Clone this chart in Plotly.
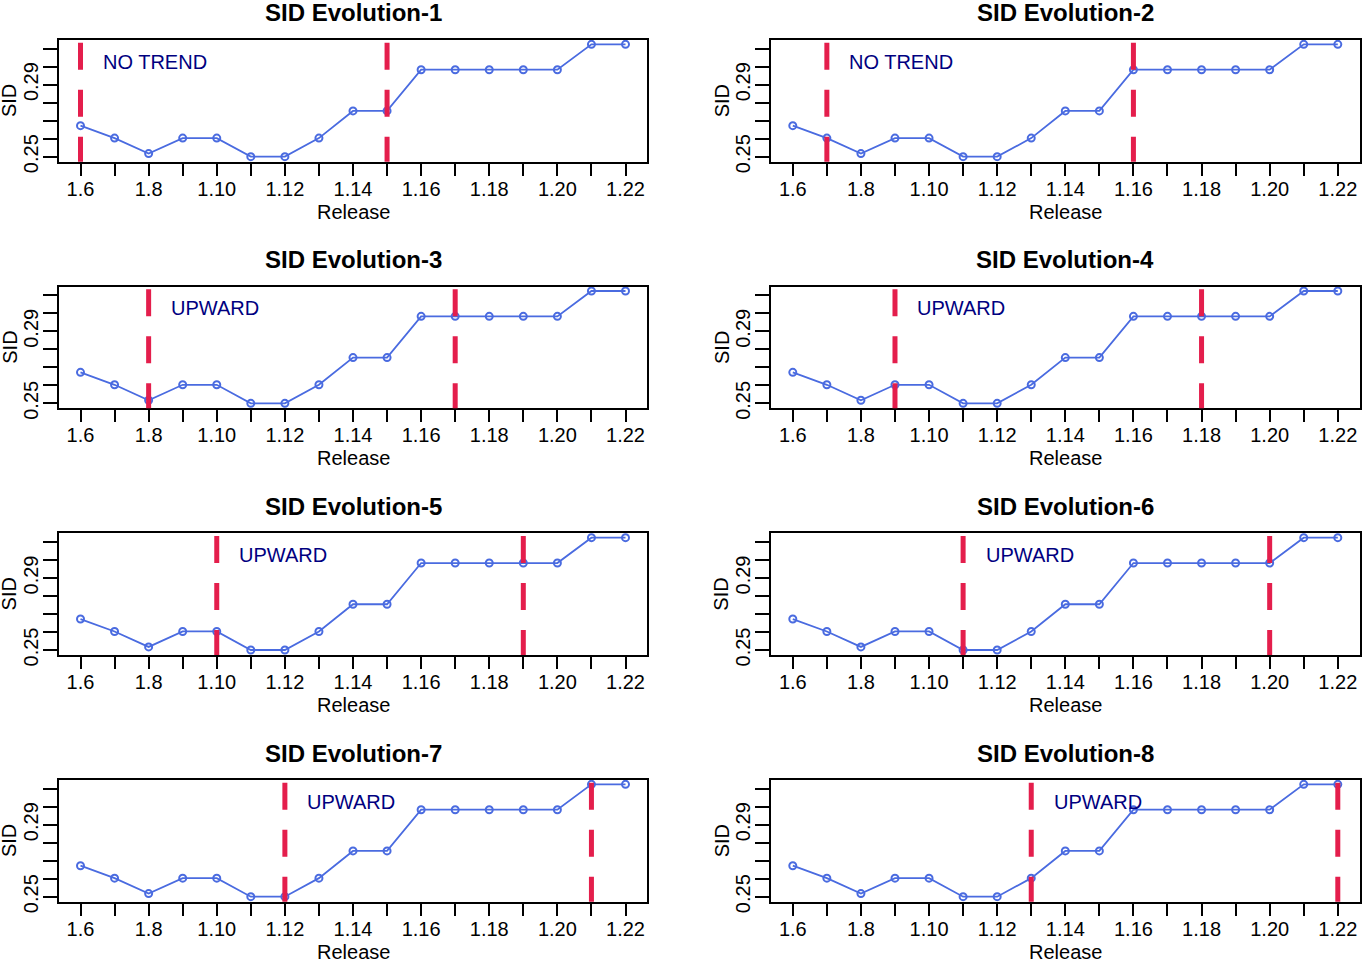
import plotly.graph_objects as go

releases = ["1.6", "1.7", "1.8", "1.9", "1.10", "1.11", "1.12", "1.13", "1.14",
            "1.15", "1.16", "1.17", "1.18", "1.19", "1.20", "1.21", "1.22"]
sid = [0.2672, 0.2603, 0.2517, 0.2603, 0.2603, 0.2500, 0.2500, 0.2603, 0.2754,
       0.2754, 0.2983, 0.2983, 0.2983, 0.2983, 0.2983, 0.3124, 0.3124]
window_start = [0, 1, 2, 3, 4, 5, 6, 7]
window_size = 9
trend_labels = ["NO TREND", "NO TREND", "UPWARD", "UPWARD",
                "UPWARD", "UPWARD", "UPWARD", "UPWARD"]
panel_titles = ["SID Evolution-%d" % (i + 1) for i in range(8)]
y_tickvals = [0.25, 0.26, 0.27, 0.28, 0.29, 0.30, 0.31]
y_ticktext = ["0.25", "", "", "", "0.29", "", ""]
x_ticktext = [r if i % 2 == 0 else "" for i, r in enumerate(releases)]

W, H = 1362, 959
FONT = "Liberation Sans, Arial, Helvetica, sans-serif"
col_left = [58.7, 771.0]
box_w = 588.6
row_top = [40.0 + r * 246.67 for r in range(4)]
box_h = 121.7

xidx = list(range(len(releases)))

fig = go.Figure()
annotations = []
shapes = []

for k in range(8):
    r, c = divmod(k, 2)
    ax = "" if k == 0 else str(k + 1)
    xa, ya = "x" + ax, "y" + ax
    x0p, x1p = col_left[c], col_left[c] + box_w
    t, b = row_top[r], row_top[r] + box_h
    xdom = [x0p / W, x1p / W]
    ydom = [1 - b / H, 1 - t / H]

    fig.add_trace(go.Scatter(
        x=xidx, y=sid, mode="lines+markers", xaxis=xa, yaxis=ya,
        line=dict(color="#4A6BE0", width=1.8),
        marker=dict(symbol="circle-open", size=7, color="#4A6BE0", line=dict(width=2)),
        showlegend=False, hoverinfo="skip", cliponaxis=False))

    common = dict(showline=True, linecolor="black", linewidth=1.8, mirror=True,
                  ticks="outside", tickcolor="black", tickwidth=1.5,
                  showgrid=False, zeroline=False, automargin=False,
                  tickfont=dict(family=FONT, size=20, color="black"))
    fig.layout["xaxis" + ax] = dict(
        domain=xdom, anchor=ya, range=[-0.64, 16.64], tickmode="array",
        tickvals=xidx, ticktext=x_ticktext, ticklen=12, ticklabelstandoff=-4, **common)
    fig.layout["yaxis" + ax] = dict(
        domain=ydom, anchor=xa, range=[0.2472, 0.3148], tickmode="array",
        tickvals=y_tickvals, ticktext=y_ticktext, ticklen=14, tickangle=-90,
        ticklabelstandoff=-3, **common)

    for xi in (window_start[k], window_start[k] + window_size):
        shapes.append(dict(type="line", xref=xa, yref=ya + " domain",
                           x0=xi, x1=xi, y0=0.978, y1=0.0,
                           line=dict(color="#E41E4C", width=5, dash="27px,20px"),
                           layer="above"))

    annotations.append(dict(text=trend_labels[k], xref=xa, yref=ya,
                            x=window_start[k] + 0.6, y=0.3027, xanchor="left",
                            yanchor="middle", showarrow=False,
                            font=dict(family=FONT, size=20, color="#000080")))
    cx = (x0p + x1p) / 2
    annotations.append(dict(text="<b>" + panel_titles[k] + "</b>", xref="paper", yref="paper",
                            x=cx / W, y=1 - (t - 27) / H, xanchor="center", yanchor="middle",
                            showarrow=False, font=dict(family=FONT, size=24, color="black")))
    annotations.append(dict(text="Release", xref="paper", yref="paper",
                            x=cx / W, y=1 - (b + 50) / H, xanchor="center", yanchor="middle",
                            showarrow=False, font=dict(family=FONT, size=20, color="black")))
    annotations.append(dict(text="SID", xref="paper", yref="paper", textangle=-90,
                            x=(x0p - 49.5) / W, y=1 - (t + box_h / 2) / H,
                            xanchor="center", yanchor="middle",
                            showarrow=False, font=dict(family=FONT, size=20, color="black")))

fig.update_layout(width=W, height=H, margin=dict(l=0, r=0, t=0, b=0),
                  paper_bgcolor="white", plot_bgcolor="white",
                  annotations=annotations, shapes=shapes)
fig.write_html("out.html", config={"displayModeBar": False},
               post_script="document.body.style.margin='0';document.body.style.overflow='hidden';")
